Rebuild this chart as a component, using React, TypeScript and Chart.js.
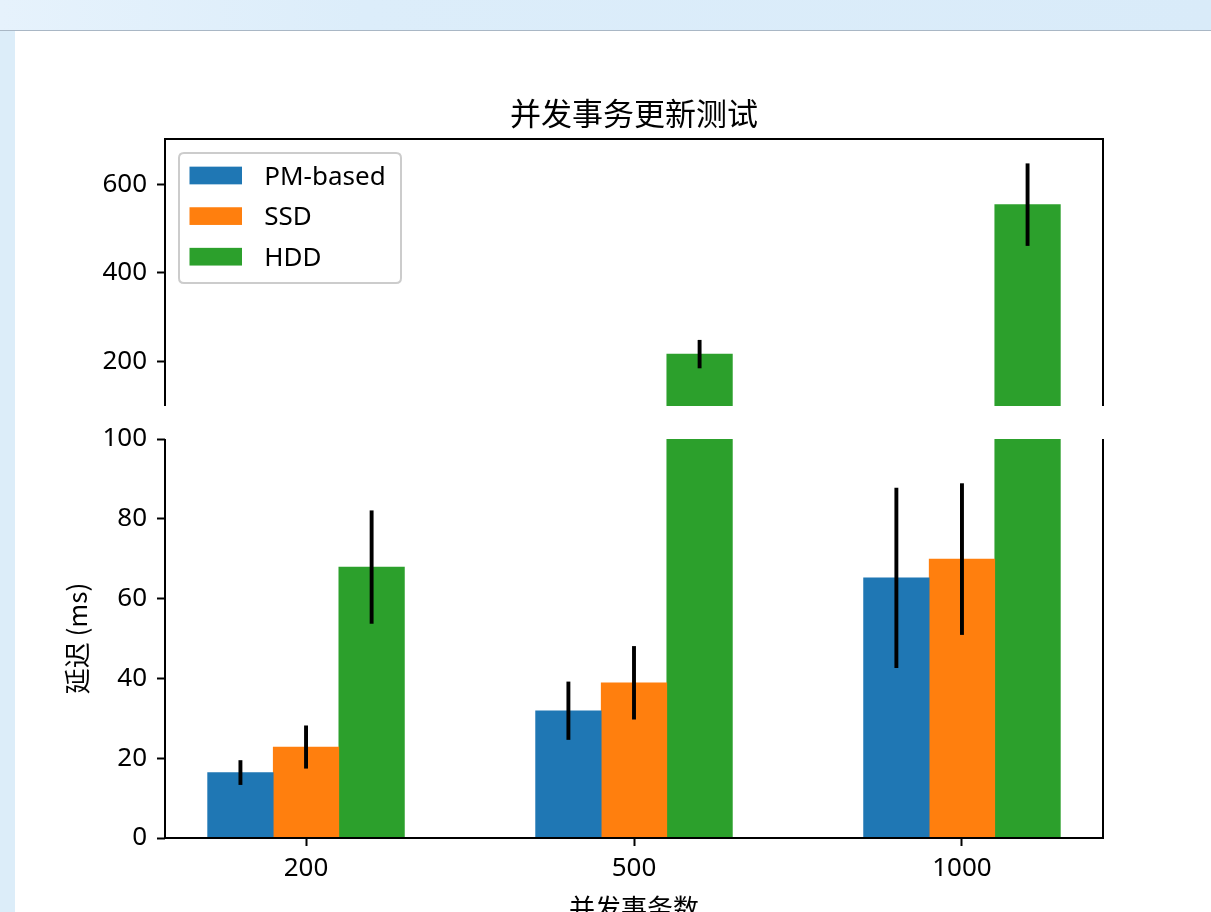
import React, { useEffect, useRef } from 'react';
import { Chart, registerables } from 'chart.js';

Chart.register(...registerables);

// ---------- data ----------
const chartTitle = '并发事务更新测试';
const xAxisTitle = '并发事务数';
const yAxisTitle = '延迟 (ms)';
const categories = ['200', '500', '1000'];
const seriesNames = ['PM-based', 'SSD', 'HDD'];
const seriesColors = ['#1f77b4', '#ff7f0e', '#2ca02c'];
const pmValues = [16.4, 31.9, 65.2];
const ssdValues = [22.8, 38.9, 69.9];
const hddValues = [67.9, 217, 554];
const pmErrors = [3.1, 7.3, 22.6];
const ssdErrors = [5.4, 9.2, 19.0];
const hddErrors = [14.2, 32, 93];
const upperTicks = [200, 400, 600];
const lowerTicks = [0, 20, 40, 60, 80, 100];
const upperRange = [100, 702];
const lowerRange = [0, 100];

const seriesValues = [pmValues, ssdValues, hddValues];
const seriesErrors = [pmErrors, ssdErrors, hddErrors];
const barWidth = 0.2;
const dataSpan = categories.length - 1 + 3 * barWidth;
const xMin = -1.5 * barWidth - 0.05 * dataSpan;
const xMax = categories.length - 1 + 1.5 * barWidth + 0.05 * dataSpan;

const LATIN = '"Noto Sans", "Noto Sans CJK SC", sans-serif';
const CJK = '"Noto Sans CJK SC", "Noto Sans", sans-serif';
const tickFont = { family: LATIN, size: 26, weight: 'normal' as const };

function buildDatasets() {
  return seriesNames.map((name, s) => ({
    label: name,
    backgroundColor: seriesColors[s],
    borderWidth: 0,
    grouped: false,
    barPercentage: 1,
    categoryPercentage: 1,
    clip: 0,
    errors: seriesErrors[s],
    data: categories.map((_, i) => ({ x: i + (s - 1) * barWidth, y: seriesValues[s][i] })),
  }));
}

// ---------- plugins ----------
const errorBarPlugin = {
  id: 'errorBars',
  afterDatasetsDraw(chart: any, _args: any, opts: any) {
    const { ctx, chartArea } = chart;
    const yScale = chart.scales.y;
    ctx.save();
    ctx.beginPath();
    ctx.rect(chartArea.left, chartArea.top, chartArea.right - chartArea.left, chartArea.bottom - chartArea.top);
    ctx.clip();
    ctx.strokeStyle = opts.color || '#000';
    ctx.lineWidth = opts.lineWidth || 3.9;
    ctx.lineCap = 'butt';
    chart.data.datasets.forEach((ds: any, d: number) => {
      const meta = chart.getDatasetMeta(d);
      meta.data.forEach((el: any, i: number) => {
        const v = ds.data[i].y;
        const e = ds.errors[i];
        ctx.beginPath();
        ctx.moveTo(el.x, yScale.getPixelForValue(v - e));
        ctx.lineTo(el.x, yScale.getPixelForValue(v + e));
        ctx.stroke();
      });
    });
    ctx.restore();
  },
};

const framePlugin = {
  id: 'frame',
  afterDraw(chart: any, _args: any, opts: any) {
    const { ctx, chartArea } = chart;
    const { left, right, top, bottom } = chartArea;
    ctx.save();
    ctx.strokeStyle = '#000';
    ctx.lineWidth = opts.lineWidth || 2;
    ctx.lineJoin = 'miter';
    ctx.beginPath();
    if (opts.open === 'bottom') {
      ctx.moveTo(left, bottom);
      ctx.lineTo(left, top);
      ctx.lineTo(right, top);
      ctx.lineTo(right, bottom);
    } else {
      ctx.moveTo(left, top);
      ctx.lineTo(left, bottom);
      ctx.lineTo(right, bottom);
      ctx.lineTo(right, top);
    }
    ctx.stroke();
    ctx.restore();
  },
};

const boxLegendPlugin = {
  id: 'boxLegend',
  afterDraw(chart: any, _args: any, opts: any) {
    if (!opts || !opts.show) return;
    const { ctx, chartArea } = chart;
    const x0 = chartArea.left + opts.offsetX;
    const y0 = chartArea.top + opts.offsetY;
    const w = opts.width;
    const h = opts.height;
    const r = opts.radius;
    ctx.save();
    ctx.beginPath();
    ctx.moveTo(x0 + r, y0);
    ctx.lineTo(x0 + w - r, y0);
    ctx.quadraticCurveTo(x0 + w, y0, x0 + w, y0 + r);
    ctx.lineTo(x0 + w, y0 + h - r);
    ctx.quadraticCurveTo(x0 + w, y0 + h, x0 + w - r, y0 + h);
    ctx.lineTo(x0 + r, y0 + h);
    ctx.quadraticCurveTo(x0, y0 + h, x0, y0 + h - r);
    ctx.lineTo(x0, y0 + r);
    ctx.quadraticCurveTo(x0, y0, x0 + r, y0);
    ctx.closePath();
    ctx.fillStyle = 'rgba(255,255,255,0.8)';
    ctx.fill();
    ctx.strokeStyle = '#cccccc';
    ctx.lineWidth = 2;
    ctx.stroke();
    ctx.font = `${opts.fontSize}px ${LATIN}`;
    ctx.textBaseline = 'alphabetic';
    ctx.textAlign = 'left';
    chart.data.datasets.forEach((ds: any, i: number) => {
      const cy = y0 + opts.firstRow + i * opts.rowPitch;
      ctx.fillStyle = ds.backgroundColor;
      ctx.fillRect(x0 + opts.patchX, cy - opts.patchH / 2, opts.patchW, opts.patchH);
      ctx.fillStyle = '#000';
      ctx.fillText(ds.label, x0 + opts.textX, cy + opts.fontSize * 0.357);
    });
    ctx.restore();
  },
};

const tickGrid = {
  offset: false,
  drawOnChartArea: false,
  drawTicks: true,
  tickLength: 8,
  tickWidth: 2,
  tickColor: '#000',
};

function setTicks(values: number[]) {
  return (scale: any) => {
    scale.ticks = values.map((v) => ({ value: v }));
  };
}

const W = 1196;
const UPPER_TOP = 31;
const UPPER_H = 405;
const LOWER_TOP = 409;
const LOWER_H = 531;

export default function App() {
  const upperRef = useRef<HTMLCanvasElement>(null);
  const lowerRef = useRef<HTMLCanvasElement>(null);

  useEffect(() => {
    const xIndexTicks = categories.map((_, i) => i);
    const upper = new Chart(upperRef.current!, {
      type: 'bar',
      data: { datasets: buildDatasets() as any },
      plugins: [errorBarPlugin, framePlugin, boxLegendPlugin],
      options: {
        responsive: false,
        animation: false,
        devicePixelRatio: 1,
        layout: { padding: { top: 0, left: 0, right: 108, bottom: 30 } },
        scales: {
          x: {
            type: 'linear',
            offset: false,
            min: xMin,
            max: xMax,
            display: false,
            grid: tickGrid,
            afterBuildTicks: setTicks(xIndexTicks),
          },
          y: {
            type: 'linear',
            min: upperRange[0],
            max: upperRange[1],
            afterBuildTicks: setTicks(upperTicks),
            ticks: { font: tickFont, color: '#000', padding: 10 },
            grid: tickGrid,
            border: { display: false },
            afterFit: (s: any) => { s.width = 150; },
          },
        },
        plugins: {
          legend: { display: false },
          tooltip: { enabled: false },
          title: {
            display: true,
            text: chartTitle,
            color: '#000',
            fullSize: false,
            font: { family: CJK, size: 31, weight: 'normal' },
            padding: { top: 63.4, bottom: 7.4 },
          },
          errorBars: { lineWidth: 3.9, color: '#000' },
          frame: { open: 'bottom', lineWidth: 2 },
          boxLegend: {
            show: true,
            offsetX: 14,
            offsetY: 14,
            width: 222,
            height: 130,
            radius: 5,
            patchX: 10.5,
            patchW: 52.5,
            patchH: 17.7,
            firstRow: 22.5,
            rowPitch: 40.6,
            textX: 85.3,
            fontSize: 26,
          },
        } as any,
      },
    });

    const lower = new Chart(lowerRef.current!, {
      type: 'bar',
      data: { datasets: buildDatasets() as any },
      plugins: [errorBarPlugin, framePlugin],
      options: {
        responsive: false,
        animation: false,
        devicePixelRatio: 1,
        layout: { padding: { top: 30, left: 0, right: 108, bottom: 0 } },
        scales: {
          x: {
            type: 'linear',
            offset: false,
            min: xMin,
            max: xMax,
            afterBuildTicks: setTicks(xIndexTicks),
            ticks: {
              font: tickFont,
              color: '#000',
              padding: 7,
              autoSkip: false,
              maxRotation: 0,
              callback: (v: any) => categories[v] ?? '',
            },
            grid: tickGrid,
            border: { display: false },
            title: {
              display: true,
              text: xAxisTitle,
              color: '#000',
              font: { family: CJK, size: 26, weight: 'normal' },
              padding: { top: 0, bottom: 16.4 },
            },
            afterFit: (s: any) => { s.height = 102; },
          },
          y: {
            type: 'linear',
            min: lowerRange[0],
            max: lowerRange[1],
            afterBuildTicks: setTicks(lowerTicks),
            ticks: { font: tickFont, color: '#000', padding: 10 },
            grid: tickGrid,
            border: { display: false },
            title: {
              display: true,
              text: yAxisTitle,
              color: '#000',
              font: { family: CJK, size: 26, weight: 'normal' },
              padding: { top: 46.4, bottom: 0 },
            },
            afterFit: (s: any) => { s.width = 150; },
          },
        },
        plugins: {
          legend: { display: false },
          tooltip: { enabled: false },
          title: { display: false },
          errorBars: { lineWidth: 3.9, color: '#000' },
          frame: { open: 'top', lineWidth: 2 },
        } as any,
      },
    });

    return () => {
      upper.destroy();
      lower.destroy();
    };
  }, []);

  return (
    <div
      style={{
        position: 'fixed',
        left: 0,
        top: 0,
        width: 1211,
        height: 912,
        overflow: 'hidden',
        background: '#dcedf9',
      }}
    >
      <div
        style={{
          position: 'absolute',
          left: 0,
          top: 0,
          width: 1211,
          height: 30,
          background: 'linear-gradient(90deg, #e6f2fc 0%, #dcedfa 30%, #d9ebf9 100%)',
          borderBottom: '1px solid #a9b7c5',
        }}
      />
      <div
        style={{
          position: 'absolute',
          left: 15,
          top: 31,
          width: 1196,
          height: 881,
          background: '#ffffff',
        }}
      />
      <canvas
        ref={upperRef}
        width={W}
        height={UPPER_H}
        style={{ position: 'absolute', left: 15, top: UPPER_TOP, width: W, height: UPPER_H }}
      />
      <canvas
        ref={lowerRef}
        width={W}
        height={LOWER_H}
        style={{ position: 'absolute', left: 15, top: LOWER_TOP, width: W, height: LOWER_H }}
      />
    </div>
  );
}
